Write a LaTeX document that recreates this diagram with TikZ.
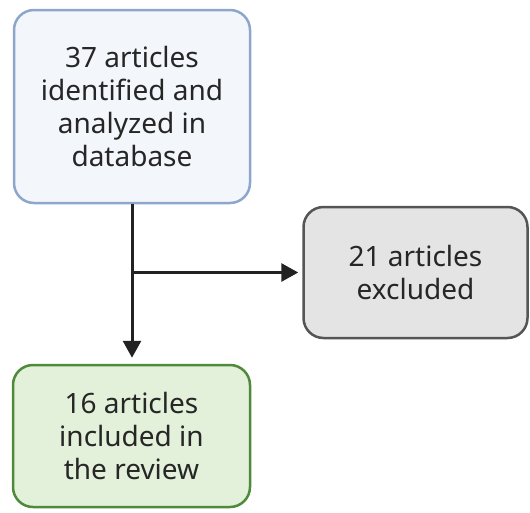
\documentclass[tikz,border=0pt]{standalone}
\usepackage{fontspec}
\setmainfont{Noto Sans}
\usetikzlibrary{arrows.meta}
\definecolor{topfill}{HTML}{F3F6FB}
\definecolor{topline}{HTML}{8EA6CC}
\definecolor{exfill}{HTML}{E4E4E4}
\definecolor{exline}{HTML}{555555}
\definecolor{infill}{HTML}{E3F0DA}
\definecolor{inline}{HTML}{4E8A3A}
\definecolor{arrowcol}{HTML}{222222}
\begin{document}
\begin{tikzpicture}[x=1pt,y=-1pt,
  stage/.style={rectangle, rounded corners=20pt, line width=2.5pt, align=center,
    font=\fontsize{28}{33}\selectfont, text=black!85, inner sep=0pt},
  flow/.style={draw=arrowcol, line width=3pt, -{Triangle[length=17pt,width=18pt]}}]
  \useasboundingbox (0,0) rectangle (530,512);
  \node[stage, fill=topfill, draw=topline, minimum width=236pt, minimum height=193pt]
    (found) at (132,106.5) {37 articles\\identified and\\analyzed in\\database};
  \node[stage, fill=exfill, draw=exline, minimum width=224pt, minimum height=131pt]
    (excl) at (415.5,272.5) {21 articles\\excluded};
  \node[stage, fill=infill, draw=inline, minimum width=237pt, minimum height=142pt]
    (incl) at (131.5,436) {16 articles\\included in\\the review};
  \coordinate (split) at (found.south |- excl.west);
  \draw[flow, shorten >=6pt] (found.south) -- (found.south |- incl.north);
  \draw[flow, shorten >=4pt] (split) -- (excl.west);
\end{tikzpicture}
\end{document}
